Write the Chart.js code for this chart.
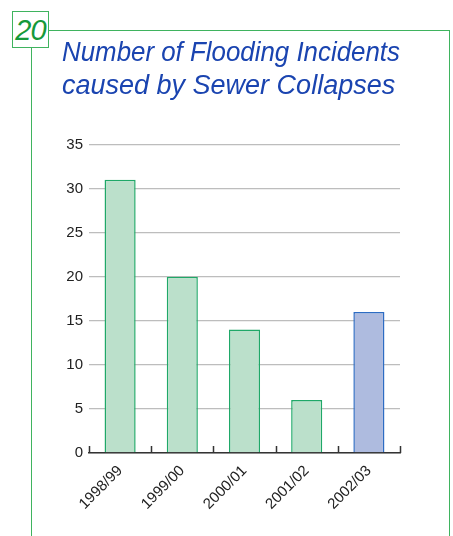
<!DOCTYPE html>
<html lang="en">
<head>
<meta charset="UTF-8" />
<title>Number of Flooding Incidents caused by Sewer Collapses</title>
<script src="https://cdn.jsdelivr.net/npm/chart.js"></script>
<style>
  html, body { margin: 0; padding: 0; background: #fff; }
  body { width: 453px; height: 536px; position: relative; overflow: hidden; font-family: "Liberation Sans", Arial, sans-serif; }
  .frame { position: absolute; left: 31px; top: 30px; width: 419px; height: 520px;
           border: 1.5px solid #3fb35e; border-bottom: none; box-sizing: border-box; }
  .badge { position: absolute; left: 12px; top: 11px; width: 37px; height: 37px; box-sizing: border-box;
           border: 1.5px solid #3fb35e; background: #fff; color: #15993a; font-style: italic;
           font-size: 29px; line-height: 37px; text-align: center; letter-spacing: -1px; }
  #chartBox { position: absolute; left: 0; top: 0; width: 453px; height: 536px; }
</style>
</head>
<body>
<div class="frame"></div>
<div class="badge">20</div>
<div id="chartBox"><canvas id="chart"></canvas></div>

<script>
// data
const years = ["1998/99", "1999/00", "2000/01", "2001/02", "2002/03"];
const incidents = [31, 20, 14, 6, 16];
const fillColours = ["#bbe0cb", "#bbe0cb", "#bbe0cb", "#bbe0cb", "#aebbdf"];
const edgeColours = ["#1fa868", "#1fa868", "#1fa868", "#1fa868", "#2d6cc3"];
const titleLines = ["Number of Flooding Incidents", "caused by Sewer Collapses"];

// small upward tick marks on the category boundaries of the x axis
const innerTicks = {
  id: "innerTicks",
  afterDatasetsDraw(chart) {
    const x = chart.scales.x;
    const ctx = chart.ctx;
    const y0 = x.top;
    const edges = [x.left];
    for (let i = 1; i < years.length; i++) {
      edges.push((x.getPixelForValue(i - 1) + x.getPixelForValue(i)) / 2);
    }
    edges.push(x.right);
    ctx.save();
    ctx.strokeStyle = "#333";
    ctx.lineWidth = 1.5;
    ctx.beginPath();
    edges.forEach(px => {
      ctx.moveTo(Math.round(px) + 0.5, y0);
      ctx.lineTo(Math.round(px) + 0.5, y0 - 7);
    });
    ctx.stroke();
    ctx.restore();
  }
};

new Chart(document.getElementById("chart"), {
  type: "bar",
  data: {
    labels: years,
    datasets: [{
      data: incidents,
      backgroundColor: fillColours,
      borderColor: edgeColours,
      borderWidth: 1.5,
      barPercentage: 0.5,
      categoryPercentage: 1.0
    }]
  },
  options: {
    responsive: true,
    maintainAspectRatio: false,
    animation: false,
    layout: { padding: { left: 62, right: 53, top: 37, bottom: 0 } },
    plugins: {
      legend: { display: false },
      tooltip: { enabled: false },
      title: {
        display: true,
        text: titleLines,
        align: "start",
        color: "#1a44b0",
        font: { family: "'Liberation Sans', Arial, sans-serif", size: 27, style: "italic", weight: "normal", lineHeight: 1.23 },
        padding: { top: 0, bottom: 41 }
      }
    },
    scales: {
      x: {
        offset: true,
        grid: { display: false },
        border: { display: true, color: "#333", width: 1.5 },
        ticks: {
          color: "#222",
          font: { family: "'Liberation Sans', Arial, sans-serif", size: 15 },
          minRotation: 45,
          maxRotation: 45,
          padding: 1
        },
        afterFit(scale) { scale.height = 83; }
      },
      y: {
        min: 0,
        max: 35,
        ticks: {
          stepSize: 5,
          color: "#222",
          font: { family: "'Liberation Sans', Arial, sans-serif", size: 15 },
          padding: 6
        },
        grid: { color: "#bdbdbd", lineWidth: 1.3, drawTicks: false },
        border: { display: false },
        afterFit(scale) { scale.width = 27; }
      }
    }
  },
  plugins: [innerTicks]
});
</script>
</body>
</html>
